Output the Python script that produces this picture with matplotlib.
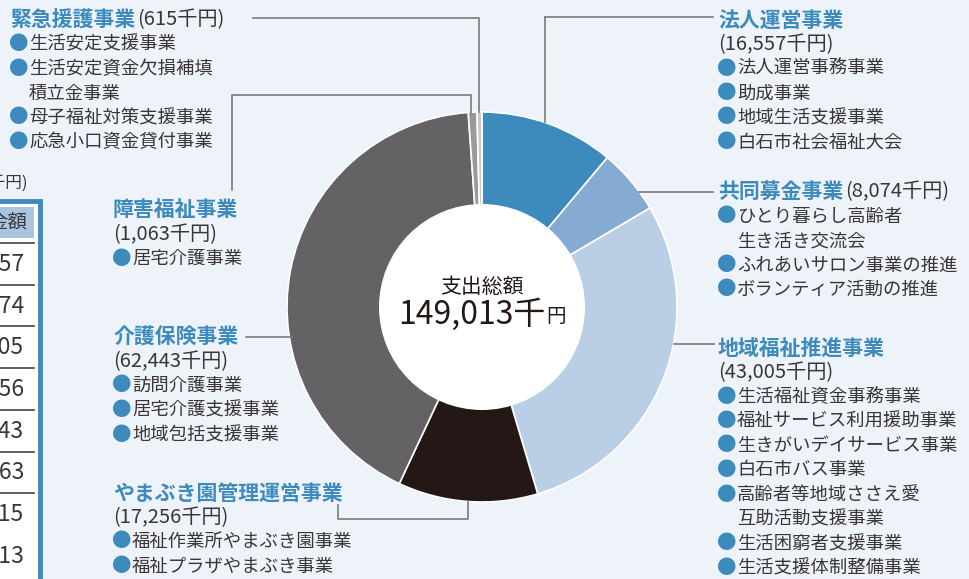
import matplotlib
matplotlib.use("Agg")
import matplotlib.pyplot as plt
import matplotlib.patches as patches

plt.rcParams['font.family'] = ['Noto Sans CJK JP', 'DejaVu Sans']

# ====== data ======
names = ["法人運営事業", "共同募金事業", "地域福祉推進事業", "やまぶき園管理運営事業",
         "介護保険事業", "障害福祉事業", "緊急援護事業"]
amounts = [16557, 8074, 43005, 17256, 62443, 1063, 615]
colors = ["#3d8abd", "#85abd3", "#bacfe6", "#231815", "#646264", "#9a9a9a", "#c9cacb"]

items = [
    ["法人運営事務事業", "助成事業", "地域生活支援事業", "白石市社会福祉大会"],
    ["ひとり暮らし高齢者\n生き活き交流会", "ふれあいサロン事業の推進", "ボランティア活動の推進"],
    ["生活福祉資金事務事業", "福祉サービス利用援助事業", "生きがいデイサービス事業", "白石市バス事業",
     "高齢者等地域ささえ愛\n互助活動支援事業", "生活困窮者支援事業", "生活支援体制整備事業"],
    ["福祉作業所やまぶき園事業", "福祉プラザやまぶき事業"],
    ["訪問介護事業", "居宅介護支援事業", "地域包括支援事業"],
    ["居宅介護事業"],
    ["生活安定支援事業", "生活安定資金欠損補填\n積立金事業", "母子福祉対策支援事業", "応急小口資金貸付事業"],
]
total = sum(amounts)

# ====== layout (pixels, y measured from top) ======
W, H = 969, 579
BG = "#eef2f9"
BLUE = "#3d8abd"
TXT = "#3a3536"
LINE = "#7a7a7a"
cx, cy = 482, 307
R_OUT, R_IN = 195, 103
STEP = 24.5

# x, y of title, amount inline with title?
blocks = [(718, 20, False), (718, 192, True), (718, 348, False),
          (113, 493, False), (113, 337, False), (113, 210, False), (10, 20, True)]

# leader lines (polylines, pixel coords)
leaders = [
    [(545, 17), (713, 17)], [(545, 17), (545, 122)],
    [(639, 192), (713, 192)],
    [(674, 344), (714, 344)],
    [(338, 505), (338, 519), (468, 519), (468, 502)],
    [(246, 337), (292, 337)],
    [(232, 190), (232, 95), (471, 95), (471, 113)],
    [(253, 18), (479, 18), (479, 112)],
]


def Y(y):
    return H - y


fig = plt.figure(figsize=(W / 100, H / 100), dpi=100, facecolor=BG)
ax = fig.add_axes([0, 0, 1, 1])
ax.set_facecolor(BG)

# donut
ax.pie(amounts, colors=colors, startangle=90, counterclock=False, radius=R_OUT,
       center=(cx, Y(cy)), wedgeprops=dict(edgecolor="white", linewidth=1.2))
ax.add_patch(patches.Circle((cx, Y(cy)), R_IN, facecolor="white", edgecolor="none", zorder=3))

ax.text(cx, Y(287), "支出総額", fontsize=15, color="#231815", ha="center", va="center", zorder=4)
t = ax.text(546, Y(315), f"{total:,}千", fontsize=23, color="#231815", ha="right", va="center", zorder=4)
ax.annotate("円", xy=(1, 0.12), xycoords=t, xytext=(0, 0), textcoords="offset points",
            fontsize=14, color="#231815", ha="left", va="bottom", zorder=4)

# leaders
for pts in leaders:
    ax.plot([p[0] for p in pts], [Y(p[1]) for p in pts], color=LINE, lw=1.2, zorder=2)

# labels
for name, amt, its, (x, y, inline) in zip(names, amounts, items, blocks):
    title = ax.text(x, Y(y), name, fontsize=15, fontweight="bold", color=BLUE, ha="left", va="center")
    amount = f"({amt:,}千円)"
    row = 1
    if inline:
        ax.annotate(amount, xy=(1, 0.5), xycoords=title, xytext=(1, 0), textcoords="offset points",
                    fontsize=14.5, color=TXT, ha="left", va="center")
    else:
        ax.text(x, Y(y + STEP), amount, fontsize=14.5, color=TXT, ha="left", va="center")
        row = 2
    for it in its:
        for k, part in enumerate(it.split("\n")):
            yy = Y(y + STEP * row)
            if k == 0:
                ax.text(x - 1, yy, "●", fontsize=14, color=BLUE, ha="left", va="center")
            ax.text(x + 19, yy, part, fontsize=13.2, color=TXT, ha="left", va="center")
            row += 1

# table cut at left edge
ax.add_patch(patches.Rectangle((-20, Y(600)), 60, 600 - 201, facecolor="white",
                               edgecolor=BLUE, linewidth=3.5, zorder=1))
ax.add_patch(patches.Rectangle((-5, Y(238)), 39, 31, facecolor="#a9c4e0", edgecolor="none", zorder=1.5))
ax.text(28, Y(183), "(単位:千円)", fontsize=12, color=TXT, ha="right", va="center")
ax.text(27, Y(222), "金額", fontsize=14, color=TXT, ha="right", va="center", zorder=2)
table_vals = amounts + [total]
for i, v in enumerate(table_vals):
    yl = 243 + 41.7 * i
    if i < len(table_vals) - 1:
        ax.plot([-5, 34], [Y(yl), Y(yl)], color="#444444", lw=1.2, zorder=2)
    ax.text(24, Y(yl + 21), f"{v:,}", fontsize=16.5, color=TXT, ha="right", va="center", zorder=2)

ax.set_xlim(0, W)
ax.set_ylim(0, H)
ax.set_aspect("equal")
ax.axis("off")

fig.savefig("out.png", dpi=100, facecolor=BG)
